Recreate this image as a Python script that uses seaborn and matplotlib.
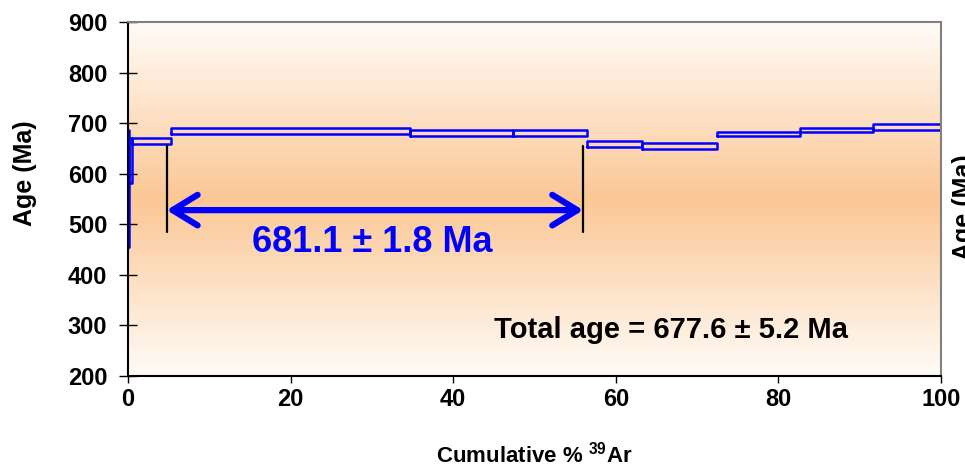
import numpy as np
import pandas as pd
import matplotlib
matplotlib.use("Agg")
import matplotlib.pyplot as plt
import seaborn as sns

# ---- data ----
cum_pct_edges = [0, 0.1, 0.5, 5.3, 34.7, 47.3, 56.5, 63.2, 72.4, 82.6, 91.6, 100]
step_age = [571, 626.5, 665, 684, 681, 681, 658, 654, 678.5, 686, 692.5]
step_err = [116, 44.5, 6, 6, 6, 6, 6, 6, 4.5, 4.5, 5.5]
plateau_range = [4.75, 56.0]
plateau_age = 528
plateau_bar = [485, 655]
plateau_label = "681.1 ± 1.8 Ma"
total_label = "Total age = 677.6 ± 5.2 Ma"
y_ticks = [200, 300, 400, 500, 600, 700, 800, 900]
x_ticks = [0, 20, 40, 60, 80, 100]

sns.set_style("ticks")
plt.rcParams["font.family"] = ["Liberation Sans", "DejaVu Sans"]
plt.rcParams["font.weight"] = "bold"
plt.rcParams["text.color"] = "black"
plt.rcParams["axes.labelcolor"] = "black"
plt.rcParams["xtick.color"] = "black"
plt.rcParams["ytick.color"] = "black"
plt.rcParams["mathtext.fontset"] = "custom"
plt.rcParams["mathtext.rm"] = "Liberation Sans:bold"
plt.rcParams["mathtext.bf"] = "Liberation Sans:bold"
plt.rcParams["mathtext.it"] = "Liberation Sans:bold"

# build rectangle outlines for each step
rows = []
for i, (a, e) in enumerate(zip(step_age, step_err)):
    x0, x1 = cum_pct_edges[i], cum_pct_edges[i + 1]
    lo, hi = a - e, a + e
    for k, (xx, yy) in enumerate([(x0, lo), (x1, lo), (x1, hi), (x0, hi), (x0, lo)]):
        rows.append({"step": i, "order": k, "x": xx, "y": yy})
df = pd.DataFrame(rows)

fig = plt.figure(figsize=(9.65, 4.70), dpi=100)
ax = fig.add_axes([128 / 965, 1 - 376 / 470, (941 - 128) / 965, (376 - 22) / 470])

# background gradient
n = 400
yy = np.linspace(0, 1, n)
t = 1 - np.abs(yy - 0.5) / 0.5
c_edge = np.array([255, 252, 248]) / 255
c_mid = np.array([251, 199, 149]) / 255
grad = c_edge[None, :] + (c_mid - c_edge)[None, :] * t[:, None]
ax.imshow(grad[:, None, :], extent=[0, 100, 200, 900], aspect="auto",
          origin="lower", zorder=0, interpolation="bilinear")

sns.lineplot(data=df, x="x", y="y", units="step", estimator=None, sort=False,
             color="#0000FF", lw=1.8, ax=ax, legend=False, zorder=3)

# plateau markers
for xv in plateau_range:
    ax.plot([xv, xv], plateau_bar, color="black", lw=1.6, zorder=3)
ax.annotate("", xy=(plateau_range[0], plateau_age), xytext=(plateau_range[1], plateau_age),
            arrowprops=dict(arrowstyle="<->, head_length=0.9, head_width=0.55",
                            color="#0000FF", lw=4.5, shrinkA=0, shrinkB=0,
                            mutation_scale=20), zorder=4)
ax.text(30.0, 463, plateau_label, color="#0000FF", fontsize=26, fontweight="bold",
        ha="center", va="center", zorder=5)
ax.text(88.6, 291, total_label, color="black", fontsize=21, fontweight="bold",
        ha="right", va="center", zorder=5)

ax.set_xlim(0, 100)
ax.set_ylim(200, 900)
ax.set_xticks(x_ticks)
ax.set_yticks(y_ticks)
ax.tick_params(axis="y", direction="inout", length=13, width=1, pad=8.5,
               labelsize=17, color="black", labelcolor="black")
ax.tick_params(axis="x", direction="out", length=5, width=1, pad=3.5,
               labelsize=17, color="black", labelcolor="black")
for lab in ax.get_xticklabels() + ax.get_yticklabels():
    lab.set_fontweight("bold")

for s in ["left", "bottom"]:
    ax.spines[s].set_color("black")
    ax.spines[s].set_linewidth(1.5)
for s in ["top", "right"]:
    ax.spines[s].set_color("#808080")
    ax.spines[s].set_linewidth(1.5)
for s in ax.spines.values():
    s.set_zorder(6)

ax.set_xlabel(r"Cumulative % $^{39}$Ar", fontsize=16, fontweight="bold", va="center")
ax.xaxis.set_label_coords(0.5, -0.222)
ax.set_ylabel("Age (Ma)", fontsize=18, fontweight="bold", va="center")
ax.yaxis.set_label_coords(-0.127, 0.573)

# partially visible right-hand label (clipped by the figure edge, as in the reference)
fig.text(952 / 965, 1 - 207 / 470, "Age (Ma)", rotation=90, fontsize=18,
         fontweight="bold", ha="left", va="center")

fig.savefig("out.png", dpi=100)
